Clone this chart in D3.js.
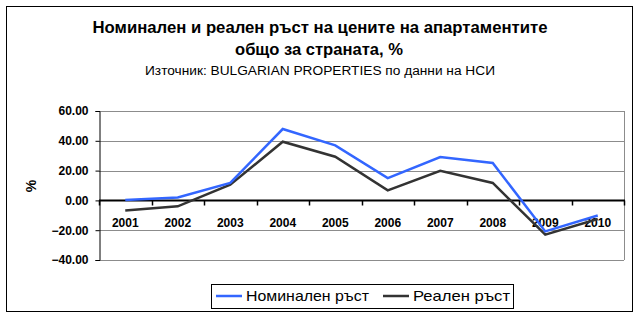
<!DOCTYPE html>
<html><head><meta charset="utf-8">
<script src="https://cdn.jsdelivr.net/npm/d3@7"></script>
<style>body{margin:0;background:#fff}svg{display:block;font-family:"Liberation Sans",Arial,sans-serif}</style>
</head><body><svg id="c" width="640" height="322"></svg>
<script>
const years = ["2001","2002","2003","2004","2005","2006","2007","2008","2009","2010"];
const nominal = [0.3, 2.0, 11.7, 47.9, 36.9, 15.0, 29.1, 25.1, -20.8, -10.1];
const real = [-6.7, -4.0, 10.5, 39.4, 29.3, 6.7, 19.9, 11.7, -23.0, -12.5];
const yTicks = [60, 40, 20, 0, -20, -40];
const seriesNames = ["Номинален ръст", "Реален ръст"];
const colors = ["#3366ff", "#333333"];

const svg = d3.select("#c");
svg.append("rect").attr("x",6.5).attr("y",6.5).attr("width",626).attr("height",305)
  .attr("fill","#fff").attr("stroke","#000").attr("stroke-width",1);

const L=99, R=624, T=111, B=260;
const x = d3.scaleBand().domain(years).range([L,R]);
const y = d3.scaleLinear().domain([-40,60]).range([B,T]);

// titles
svg.append("text").attr("x",320).attr("y",32.5).attr("text-anchor","middle")
  .attr("font-size",16.5).attr("font-weight","bold")
  .attr("textLength",455).attr("lengthAdjust","spacingAndGlyphs")
  .text("Номинален и реален ръст на цените на апартаментите");
svg.append("text").attr("x",319).attr("y",54.5).attr("text-anchor","middle")
  .attr("font-size",16.5).attr("font-weight","bold")
  .attr("textLength",168).attr("lengthAdjust","spacingAndGlyphs")
  .text("общо за страната, %");
svg.append("text").attr("x",320).attr("y",75).attr("text-anchor","middle")
  .attr("font-size",12.5)
  .attr("textLength",350).attr("lengthAdjust","spacingAndGlyphs")
  .text("Източник: BULGARIAN PROPERTIES по данни на НСИ");

// gridlines
svg.append("g").selectAll("line").data(yTicks.filter(d=>d!==0)).join("line")
  .attr("x1",L).attr("x2",R).attr("y1",d=>Math.round(y(d))+0.5).attr("y2",d=>Math.round(y(d))+0.5)
  .attr("stroke","#8c8c8c").attr("stroke-width",1);
// plot border (right)
svg.append("line").attr("x1",R+0.5).attr("x2",R+0.5).attr("y1",y(60)).attr("y2",y(-40))
  .attr("stroke","#8c8c8c");

// y axis
const yAxis = d3.axisLeft(y).tickValues(yTicks).tickSize(4).tickFormat(d3.format(".2f"));
const gy = svg.append("g").attr("transform",`translate(${L+0.5},0)`).call(yAxis);
gy.select(".domain").attr("stroke","#000");
gy.selectAll(".tick line").attr("stroke","#000");
gy.selectAll("text").attr("font-size",12).attr("font-weight","bold").attr("fill","#000")
  .attr("font-family","Liberation Sans, Arial, sans-serif").attr("x",-11);

// x axis at zero
const y0 = Math.round(y(0))+0.5;
svg.append("line").attr("x1",L).attr("x2",R+1).attr("y1",y0).attr("y2",y0).attr("stroke","#000").attr("stroke-width",2);
const bounds = years.map(d=>x(d)).concat([R]);
svg.append("g").selectAll("line").data(bounds).join("line")
  .attr("x1",d=>Math.round(d)+0.5).attr("x2",d=>Math.round(d)+0.5).attr("y1",y0).attr("y2",y0+5)
  .attr("stroke","#000").attr("stroke-width",1.5);
svg.append("g").selectAll("text").data(years).join("text")
  .attr("x",d=>x(d)+x.bandwidth()/2).attr("y",y0+26).attr("text-anchor","middle")
  .attr("font-size",12).attr("font-weight","bold").text(d=>d);

// y label
svg.append("text").attr("transform",`translate(36,186) rotate(-90)`).attr("text-anchor","middle")
  .attr("font-size",14).attr("font-weight","bold").text("%");

// lines
const line = d3.line().x((d,i)=>x(years[i])+x.bandwidth()/2).y(d=>y(d));
[real, nominal].forEach((s,k)=>{
  const c = k===0 ? colors[1] : colors[0];
  svg.append("path").datum(s).attr("d",line).attr("fill","none").attr("stroke",c)
    .attr("stroke-width",2.5).attr("stroke-linejoin","miter");
});

// legend
svg.append("rect").attr("x",211.5).attr("y",284.5).attr("width",302).attr("height",24)
  .attr("fill","#fff").attr("stroke","#000");
const lx = [216, 383];
const tl = [123, 97];
seriesNames.forEach((n,i)=>{
  svg.append("line").attr("x1",lx[i]).attr("x2",lx[i]+26).attr("y1",296).attr("y2",296)
    .attr("stroke",colors[i]).attr("stroke-width",2.5);
  svg.append("text").attr("x",lx[i]+30).attr("y",301).attr("font-size",15)
    .attr("textLength",tl[i]).attr("lengthAdjust","spacingAndGlyphs").text(n);
});
</script></body></html>
